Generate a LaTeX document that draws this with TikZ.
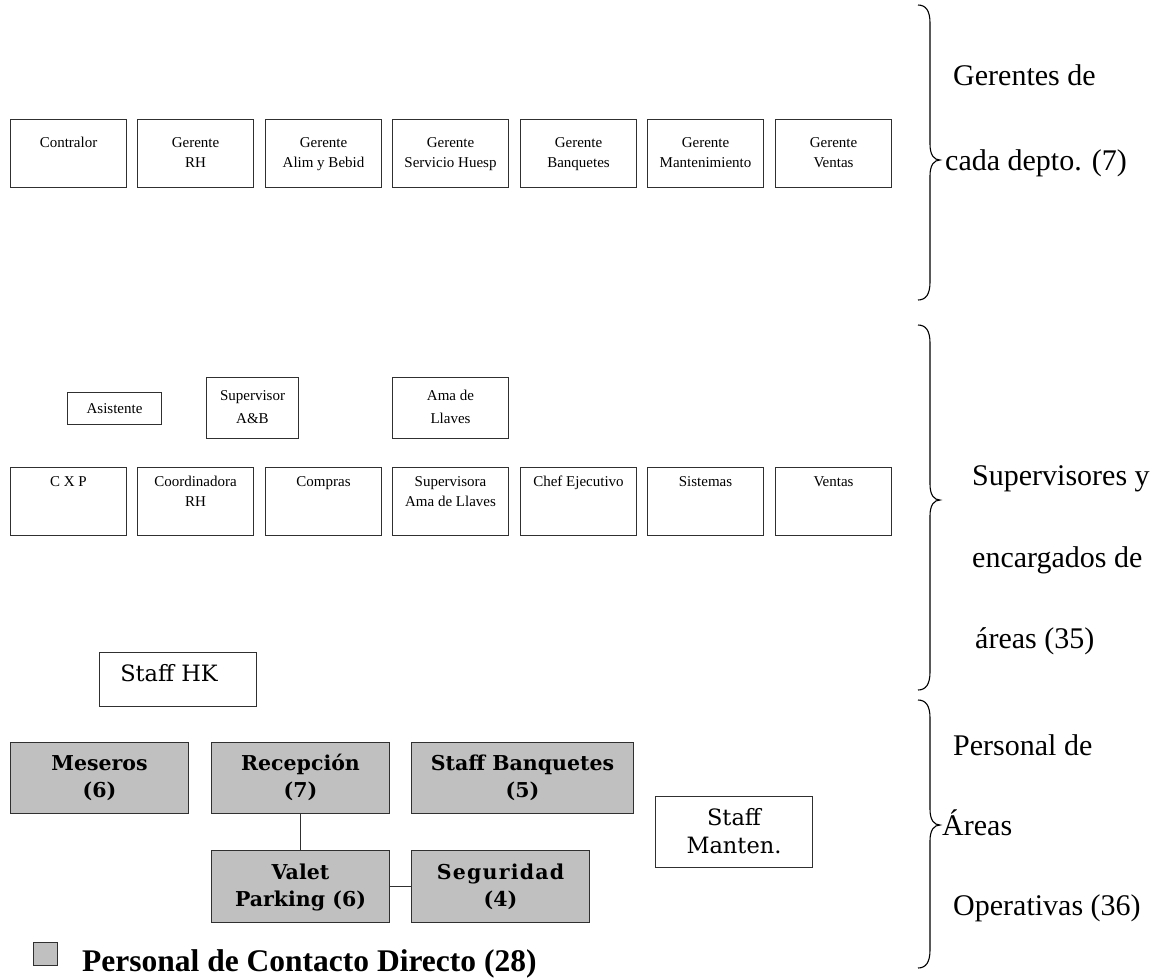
\documentclass[tikz,border=0pt]{standalone}
\usepackage{fontspec}
\setmainfont{Liberation Serif}
\newfontfamily\slabfont{DejaVu Serif}
\definecolor{boxgray}{HTML}{C0C0C0}
\definecolor{edgecol}{HTML}{303030}
\newcommand\mybrace[3]{%
  \draw[bracecol] (918,#1) .. controls (926,#1) and (930,{#1+6}) .. (930,{#1+18})
    -- (930,{#2-16}) .. controls (930,{#2-5}) and (934,#2) .. (940,#2)
    .. controls (934,#2) and (930,{#2+5}) .. (930,{#2+16})
    -- (930,{#3-18}) .. controls (930,{#3-6}) and (926,#3) .. (918,#3);}
\begin{document}
\begin{tikzpicture}[x=1pt,y=-1pt,
  bbase/.style={draw=edgecol, line width=1pt, inner xsep=0pt, inner ysep=0pt, align=center, anchor=north west},
  topbox/.style={bbase, minimum width=116pt, text height=48pt, text depth=20pt, font=\fontsize{15pt}{20pt}\selectfont},
  topone/.style={topbox, text height=28pt, text depth=40pt},
  midbox/.style={bbase, minimum width=116pt, text height=39pt, text depth=29pt, font=\fontsize{15pt}{20pt}\selectfont},
  midone/.style={midbox, text height=19pt, text depth=49pt},
  upbox/.style={bbase, text height=46pt, text depth=15pt, font=\fontsize{15pt}{23pt}\selectfont},
  greybox/.style={bbase, fill=boxgray, minimum width=178pt, font=\slabfont\bfseries\fontsize{20.5pt}{27pt}\selectfont},
  slabbox/.style={bbase, font=\slabfont\fontsize{22.5pt}{28pt}\selectfont},
  rlabel/.style={anchor=base west, inner sep=0pt, font=\fontsize{30pt}{30pt}\selectfont},
  conn/.style={draw=edgecol, line width=1pt},
  bracecol/.style={line width=1.1pt, black}
]
\useasboundingbox (0,0) rectangle (1167,978);

% Row 1: managers
\node[topone] (contralor) at (10,119) {Contralor};
\node[topbox] (grh) at (137,119) {Gerente\\RH};
\node[topbox] (gab) at (265,119) {Gerente\\Alim y Bebid};
\node[topbox] (gsh) at (392,119) {Gerente\\Servicio Huesp};
\node[topbox] (gbq) at (520,119) {Gerente\\Banquetes};
\node[topbox] (gmt) at (647,119) {Gerente\\Mantenimiento};
\node[topbox] (gvt) at (775,119) {Gerente\\Ventas};

% Row 2 upper
\node[upbox, minimum width=94pt, text height=21pt, text depth=11pt] (asis) at (67,392) {Asistente};
\node[upbox, minimum width=92pt] (supab) at (206,377) {Supervisor\\A\&B};
\node[upbox, minimum width=116pt] (amall) at (392,377) {Ama de\\Llaves};

% Row 2
\node[midone] (cxp) at (10,467) {C X P};
\node[midbox] (coord) at (137,467) {Coordinadora\\RH};
\node[midone] (compras) at (265,467) {Compras};
\node[midbox] (supall) at (392,467) {Supervisora\\Ama de Llaves};
\node[midone] (chef) at (520,467) {Chef Ejecutivo};
\node[midone] (sist) at (647,467) {Sistemas};
\node[midone] (ventas) at (775,467) {Ventas};

% Operative staff
\node[slabbox, minimum width=157pt, text height=29pt, text depth=25pt] (shk) at (99,652) {Staff HK\hspace*{18pt}};
\node[greybox, text height=55pt, text depth=16pt] (meseros) at (10,742) {Meseros\\(6)};
\node[greybox, text height=55pt, text depth=16pt] (rec) at (211,742) {Recepción\\(7)};
\node[greybox, minimum width=222pt, text height=55pt, text depth=16pt] (sbq) at (411,742) {Staff Banquetes\\(5)};
\node[greybox, text height=56pt, text depth=16pt] (valet) at (211,850) {Valet\\Parking (6)};
\node[greybox, text height=56pt, text depth=16pt] (seg) at (411,850) {{\addfontfeature{LetterSpace=6}Seguridad}\\(4)};
\node[slabbox, minimum width=157pt, text height=57pt, text depth=14pt] (smt) at (655,796) {Staff\\Manten.};

\draw[conn] (rec.south) -- (valet.north);
\draw[conn] (valet.east) -- (seg.west);

% Legend
\node[draw=edgecol, line width=1pt, fill=boxgray, minimum width=24pt, minimum height=23pt, inner sep=0pt, anchor=north west] (legsq) at (33,942) {};
\node[anchor=base west, inner sep=0pt, font=\bfseries\fontsize{31.5pt}{31.5pt}\selectfont] (legtxt) at (82,971) {Personal de Contacto Directo (28)};

% Braces
\mybrace{5}{160}{300}
\mybrace{325}{500}{690}
\mybrace{700}{825}{968}

% Right labels
\node[rlabel] (l1a) at (953,85) {Gerentes de};
\node[rlabel] (l1b) at (945,170) {cada depto. (7)};
\node[rlabel] (l2a) at (972,485) {Supervisores y};
\node[rlabel] (l2b) at (972,567) {encargados de};
\node[rlabel] (l2c) at (975,648) {áreas (35)};
\node[rlabel] (l3a) at (953,755) {Personal de};
\node[rlabel] (l3b) at (942,835) {Áreas};
\node[rlabel] (l3c) at (953,915) {Operativas (36)};
\end{tikzpicture}
\end{document}
